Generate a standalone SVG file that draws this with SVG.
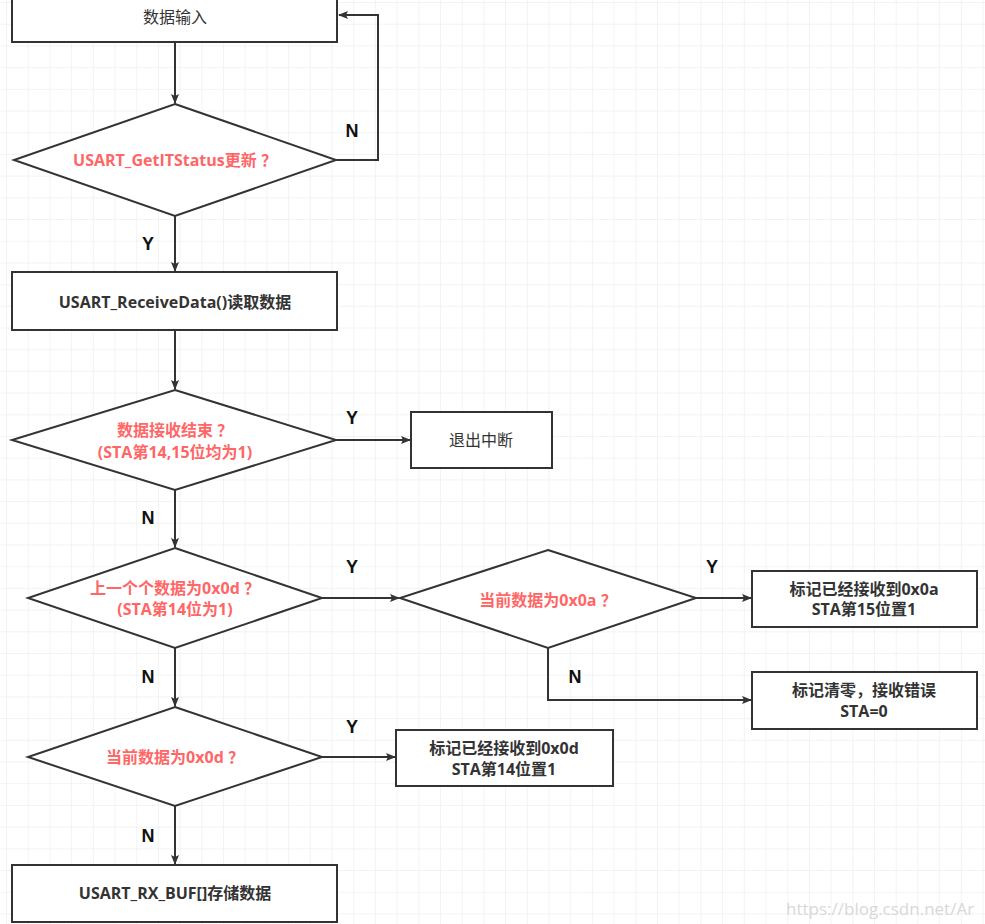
<svg xmlns="http://www.w3.org/2000/svg" width="985" height="924" viewBox="0 0 985 924">
<defs>
<pattern id="grid" width="21.7" height="21.7" patternUnits="userSpaceOnUse" x="7" y="3">
<path d="M21.7 0V21.7H0" fill="none" stroke="#e8e8e8" stroke-width="1"/>
</pattern>
<marker id="ah" markerWidth="10" markerHeight="10" refX="9" refY="5" orient="auto" markerUnits="userSpaceOnUse">
<path d="M0,1 L10,5 L0,9 L2,5 Z" fill="#333"/>
</marker>
<style>
.s{fill:#fff;stroke:#333;stroke-width:2}
.c{fill:none;stroke:#333;stroke-width:2;marker-end:url(#ah)}
text{font-family:"Open Sans","Noto Sans CJK SC",sans-serif;font-size:16px;text-anchor:middle;dominant-baseline:central;fill:#333}
.b{font-weight:bold}
.r{font-weight:bold;fill:#ff6666}
.l{font-family:"Liberation Sans",Arial,sans-serif;font-size:18px;font-weight:bold;fill:#111}
</style>
</defs>
<rect width="985" height="924" fill="#fff"/>
<rect width="985" height="924" fill="url(#grid)"/>
<g id="connectors">
<path class="c" d="M175,42V103"/>
<path class="c" d="M336,160H378V15H339"/>
<path class="c" d="M175,216V271"/>
<path class="c" d="M175,330V389"/>
<path class="c" d="M336,440H410"/>
<path class="c" d="M175,490V547"/>
<path class="c" d="M322,598H399"/>
<path class="c" d="M696,598H751"/>
<path class="c" d="M548,648V700H751"/>
<path class="c" d="M175,648V706"/>
<path class="c" d="M322,757H395"/>
<path class="c" d="M175,806V864"/>
<text class="l" x="352" y="131">N</text>
<text class="l" x="148" y="244">Y</text>
<text class="l" x="352" y="418">Y</text>
<text class="l" x="148" y="518">N</text>
<text class="l" x="352" y="567">Y</text>
<text class="l" x="712" y="567">Y</text>
<text class="l" x="575" y="677">N</text>
<text class="l" x="148" y="677">N</text>
<text class="l" x="352" y="727">Y</text>
<text class="l" x="148" y="836">N</text>
</g>
<g id="n1"><rect class="s" x="12" y="-10" width="325" height="52"/><text x="175" y="17">数据输入</text></g>
<g id="n2"><path class="s" d="M175,104L336,160L175,216L14,160Z"/><text class="r" x="175" y="160">USART_GetITStatus更新 ？</text></g>
<g id="n3"><rect class="s" x="12" y="272" width="325" height="58"/><text class="b" x="175" y="302">USART_ReceiveData()读取数据</text></g>
<g id="n4"><path class="s" d="M175,390L336,440L175,490L12,440Z"/><text class="r" x="175" y="430">数据接收结束 ？</text><text class="r" x="175" y="452">(STA第14,15位均为1)</text></g>
<g id="n5"><rect class="s" x="411" y="412" width="141" height="56"/><text x="481" y="440">退出中断</text></g>
<g id="n6"><path class="s" d="M175,548L322,598L175,648L28,598Z"/><text class="r" x="175" y="588">上一个个数据为0x0d ？</text><text class="r" x="175" y="609">(STA第14位为1)</text></g>
<g id="n7"><path class="s" d="M548,550L696,598L548,648L400,598Z"/><text class="r" x="548" y="600">当前数据为0x0a ？</text></g>
<g id="n8"><rect class="s" x="752" y="571" width="225" height="56"/><text class="b" x="864" y="589">标记已经接收到0x0a</text><text class="b" x="864" y="609">STA第15位置1</text></g>
<g id="n9"><rect class="s" x="752" y="672" width="225" height="57"/><text class="b" x="864" y="690">标记清零，接收错误</text><text class="b" x="864" y="711">STA=0</text></g>
<g id="n10"><path class="s" d="M175,707L322,757L175,806L28,757Z"/><text class="r" x="175" y="757">当前数据为0x0d ？</text></g>
<g id="n11"><rect class="s" x="396" y="730" width="217" height="56"/><text class="b" x="504" y="748">标记已经接收到0x0d</text><text class="b" x="504" y="769">STA第14位置1</text></g>
<g id="n12"><rect class="s" x="12" y="865" width="325" height="57"/><text class="b" x="175" y="893">USART_RX_BUF[]存储数据</text></g>
<text x="786" y="908" style="text-anchor:start;fill:#d8d8d8;font-size:17px">https://blog.csdn.net/Ar</text>
</svg>
